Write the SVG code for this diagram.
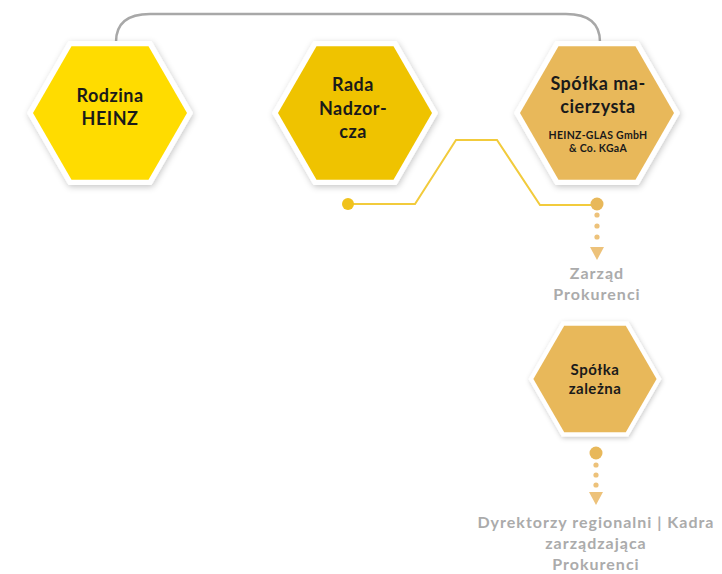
<svg xmlns="http://www.w3.org/2000/svg" width="722" height="574" viewBox="0 0 722 574">
<style>
.t{font-family:Lato,"Liberation Sans",sans-serif;font-weight:700;fill:#1a1a1a;text-anchor:middle;letter-spacing:0.5px}
.g{font-family:Lato,"Liberation Sans",sans-serif;font-weight:700;fill:#ABABAB;text-anchor:middle;font-size:16px;letter-spacing:1px}
.outer{fill:#fff;filter:url(#sh)}
</style>
<defs>
<filter id="sh" x="-20%" y="-20%" width="140%" height="140%">
<feDropShadow dx="1" dy="2" stdDeviation="3" flood-color="#000" flood-opacity="0.22"/>
</filter>
<polygon id="hexO" points="-83,0 -41.5,-71.9 41.5,-71.9 83,0 41.5,71.9 -41.5,71.9"/>
<polygon id="hexI" points="-77,0 -38.5,-66.7 38.5,-66.7 77,0 38.5,66.7 -38.5,66.7"/>
</defs>
<rect width="722" height="574" fill="#fff"/>
<g id="connectors">
<path d="M116,42 Q116,14 150,14 L566,14 Q600,14 600,42" fill="none" stroke="#A8A8A8" stroke-width="2.5"/>
<polyline points="348,204 415,204 456,140 497,140 540,205 597,205" fill="none" stroke="#F2CB3C" stroke-width="2"/>
<circle cx="348" cy="204" r="6" fill="#F0C21C"/>
<circle cx="597" cy="204" r="6.5" fill="#E8B85A"/>
<circle cx="597" cy="215" r="2.6" fill="#EDC27A"/>
<circle cx="597" cy="226" r="2.6" fill="#EDC27A"/>
<circle cx="597" cy="237" r="2.6" fill="#EDC27A"/>
<polygon points="590,247 604,247 597,260" fill="#EDC27A"/>
<circle cx="596" cy="453" r="6.5" fill="#E8B85A"/>
<circle cx="596" cy="465" r="2.6" fill="#EDC27A"/>
<circle cx="596" cy="475" r="2.6" fill="#EDC27A"/>
<circle cx="596" cy="485" r="2.6" fill="#EDC27A"/>
<polygon points="589,492 603,492 596,505" fill="#EDC27A"/>
</g>
<g id="rodzina" transform="translate(110,113)">
<use href="#hexO" class="outer"/>
<use href="#hexI" fill="#FFDC00"/>
<text class="t" font-size="18" x="0" y="-11">Rodzina</text>
<text class="t" font-size="18" x="0" y="12">HEINZ</text>
</g>
<g id="rada" transform="translate(355,113)">
<use href="#hexO" class="outer"/>
<use href="#hexI" fill="#EFC300"/>
<text class="t" font-size="18" x="-2" y="-22">Rada</text>
<text class="t" font-size="18" x="-2" y="2">Nadzor-</text>
<text class="t" font-size="18" x="-2" y="25">cza</text>
</g>
<g id="macierzysta" transform="translate(597,113)">
<use href="#hexO" class="outer"/>
<use href="#hexI" fill="#E8B85A"/>
<text class="t" font-size="18" x="1" y="-23">Spółka ma-</text>
<text class="t" font-size="18" x="1" y="0">cierzysta</text>
<text class="t" font-size="10.5" x="1" y="26" style="letter-spacing:0.3px">HEINZ-GLAS GmbH</text>
<text class="t" font-size="10.5" x="1" y="39" style="letter-spacing:0.3px">&amp; Co. KGaA</text>
</g>
<g id="zarzad-label">
<text class="g" x="597" y="279">Zarząd</text>
<text class="g" x="597" y="300">Prokurenci</text>
</g>
<g id="zalezna" transform="translate(595,379)">
<use href="#hexO" class="outer" transform="scale(0.8)"/>
<use href="#hexI" fill="#E8B85A" transform="scale(0.8)"/>
<text class="t" font-size="15" x="0" y="-4">Spółka</text>
<text class="t" font-size="15" x="0" y="15">zależna</text>
</g>
<g id="dyrektorzy-label">
<text class="g" x="596" y="528">Dyrektorzy regionalni | Kadra</text>
<text class="g" x="596" y="549">zarządzająca</text>
<text class="g" x="596" y="570">Prokurenci</text>
</g>
</svg>
